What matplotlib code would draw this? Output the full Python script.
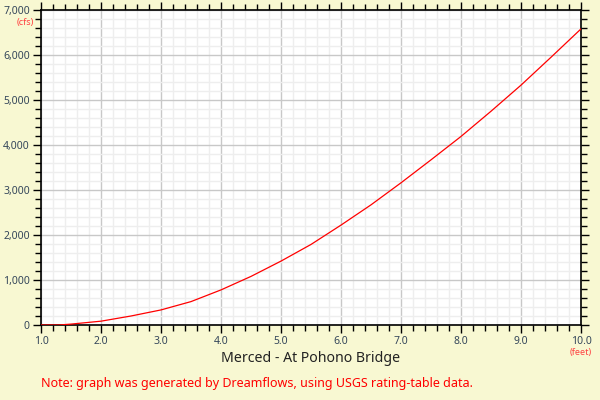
import matplotlib
matplotlib.use('Agg')
import matplotlib.pyplot as plt
from matplotlib.ticker import MultipleLocator, FuncFormatter

# Rating table: stage (feet) vs discharge (cfs)
stage = [1.0, 1.3, 1.5, 2.0, 2.5, 3.0, 3.5, 4.0, 4.5, 5.0, 5.5, 6.0,
         6.5, 7.0, 7.5, 8.0, 8.5, 9.0, 9.5, 10.0]
flow = [0, 0, 20, 85, 200, 335, 520, 780, 1080, 1420, 1790, 2220,
        2670, 3160, 3670, 4190, 4750, 5330, 5950, 6580]

title = 'Merced - At Pohono Bridge'
note = 'Note: graph was generated by Dreamflows, using USGS rating-table data.'

bg = '#f8f8d2'
label_col = '#34465a'

plt.rcParams['font.family'] = ['Noto Sans', 'DejaVu Sans']

fig = plt.figure(figsize=(6, 4), dpi=100, facecolor=bg)
ax = fig.add_axes([41/600, 75/400, 540/600, 315/400])
ax.set_facecolor('white')

ax.plot(stage, flow, color='red', linewidth=0.9, zorder=3)

ax.set_xlim(1.0, 10.0)
ax.set_ylim(0, 7000)
ax.xaxis.set_major_locator(MultipleLocator(1.0))
ax.xaxis.set_minor_locator(MultipleLocator(0.2))
ax.yaxis.set_major_locator(MultipleLocator(1000))
ax.yaxis.set_minor_locator(MultipleLocator(200))
ax.xaxis.set_major_formatter(FuncFormatter(lambda v, p: f'{v:.1f}'))
ax.yaxis.set_major_formatter(FuncFormatter(lambda v, p: f'{int(v):,}'))

# light minor grid, grey major grid
ax.grid(which='minor', color='#eeeeee', linewidth=1.0, zorder=0)
ax.grid(which='major', color='#c8c8c8', linewidth=1.0, zorder=1)
ax.set_axisbelow(True)

for s in ax.spines.values():
    s.set_color('black')
    s.set_linewidth(1.2)

ax.tick_params(which='both', direction='out', color='black', width=1.0,
               top=True, right=True, labelsize=7.5, labelcolor=label_col)
ax.tick_params(which='major', length=6)
ax.tick_params(which='minor', length=4)
ax.tick_params(axis='x', pad=2)
ax.tick_params(axis='y', pad=2)

# unit labels
fig.text(34/600, 1 - 22/400, '(cfs)', color='#ff4040', fontsize=6.5,
         ha='right', va='center')
fig.text(581/600, 1 - 353/400, '(feet)', color='#ff4040', fontsize=6.5,
         ha='center', va='center')
fig.text(311/600, 1 - 358/400, title, color='#222222', fontsize=10.2,
         ha='center', va='center')
fig.text(41/600, 1 - 383/400, note, color='red', fontsize=9,
         ha='left', va='center')

fig.savefig('out.png', dpi=100, facecolor=bg)
